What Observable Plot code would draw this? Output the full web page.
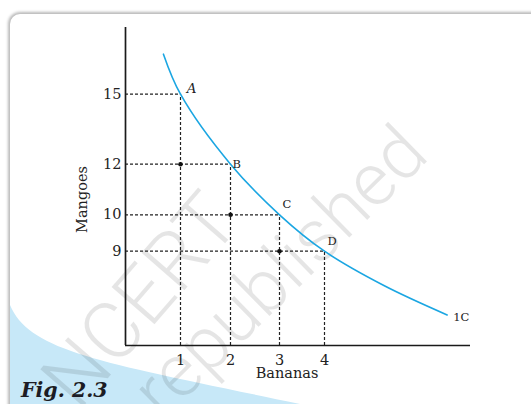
<!DOCTYPE html>
<html>
<head>
<meta charset="utf-8">
<script src="https://cdn.jsdelivr.net/npm/d3@7"></script>
<script src="https://cdn.jsdelivr.net/npm/@observablehq/plot@0.6"></script>
<style>
  html, body { margin: 0; padding: 0; background: #fff; }
  #wrap { position: relative; width: 531px; height: 404px; overflow: hidden; background: #fff; }
  #card { position: absolute; left: 10px; top: 14px; width: 640px; height: 520px; border-radius: 10px;
          background: #fff; box-shadow: 0 0 3px 2px rgba(0,0,0,0.28); overflow: hidden; }
  #deco, #mark, #plot { position: absolute; left: 0; top: 0; }
  #fig { position: absolute; left: 21px; top: 378px; font-family: "DejaVu Serif", serif; font-weight: bold;
         font-style: italic; font-size: 20.5px; color: #1c1c24; white-space: nowrap; }
</style>
</head>
<body>
<div id="wrap">
  <div id="card"></div>
  <svg id="deco" width="531" height="404">
    <path d="M10,305 C30,352 100,362 300,404 L10,404 Z" fill="#c7e8f8"></path>
  </svg>
  <svg id="mark" width="531" height="404" style="font-family: Roboto, 'DejaVu Sans', sans-serif; font-weight:300;">
    <text x="140" y="300" transform="rotate(-49 140 300)" text-anchor="middle" dominant-baseline="central"
          font-size="80" fill="#000" fill-opacity="0.1">NCERT</text>
    <text x="279" y="271" transform="rotate(-44.5 279 271)" text-anchor="middle" dominant-baseline="central"
          font-size="74" fill="#000" fill-opacity="0.1">republished</text>
  </svg>
  <div id="plot"></div>
  <div id="fig">Fig. 2.3</div>
</div>
<script>
// Schematic (unevenly spaced) axes, as drawn in the reference figure
const xDomain = [0, 1, 2, 3, 4, 7];
const yDomain = [6.5, 9, 10, 12, 15, 18];

// Consumption bundles on the indifference curve
const bananas = [1, 2, 3, 4];
const mangoes = [15, 12, 10, 9];
const bundleLabels = ["A", "B", "C", "D"];

// Intersection dots of the dashed guides
const dotBananas = [1, 2, 3];
const dotMangoes = [12, 10, 9];

// Indifference curve IC
const curveBananas = [0.69, 1, 2, 3, 4, 5.22, 6.52];
const curveMangoes = [16.8, 15, 12, 10, 9, 8.09, 7.31];

const xTicks = [1, 2, 3, 4];
const yTicks = [9, 10, 12, 15];

const bundles = bananas.map((b, i) => ({b, m: mangoes[i], label: bundleLabels[i]}));
const dots = dotBananas.map((b, i) => ({b, m: dotMangoes[i]}));
const curve = curveBananas.map((b, i) => ({b, m: curveMangoes[i]}));

const xMin = xDomain[0], xMax = xDomain[xDomain.length - 1];
const yMin = yDomain[0], yMax = yDomain[yDomain.length - 1];

// the figure's axes are hand-spaced: warp each axis piecewise before Plot's linear scale
const xWarp = d3.scaleLinear(xDomain, [0, 55, 105, 154, 199, 345]);
const yWarp = d3.scaleLinear(yDomain, [0, 94.3, 130.7, 181.3, 251.3, 318]);

const dash = {stroke: "#222", strokeWidth: 1.2, strokeDasharray: "3,2"};
const serif = "DejaVu Serif, Liberation Serif, serif";
const lab = {x: "b", y: "m", text: "label", fontSize: 11.5, fill: "#222"};

const chart = Plot.plot({
  width: 531,
  height: 404,
  margin: 0,
  x: {transform: xWarp, domain: [0, 345], range: [125, 470], axis: null},
  y: {transform: yWarp, domain: [0, 318], range: [345, 27], axis: null},
  style: {background: "transparent", fontFamily: serif, color: "#222"},
  marks: [
    Plot.ruleY(bundles, {y: "m", x1: xMin, x2: "b", ...dash}),
    Plot.ruleX(bundles, {x: "b", y1: yMin, y2: "m", ...dash}),
    Plot.dot(dots, {x: "b", y: "m", r: 2.3, fill: "#111"}),
    Plot.line(curve, {x: "b", y: "m", stroke: "#1ba6e2", strokeWidth: 1.6, curve: "catmull-rom"}),
    Plot.ruleX([xMin], {y1: yMin, y2: yMax, stroke: "#1a1a1a", strokeWidth: 1.7}),
    Plot.ruleY([yMin], {x1: xMin, x2: xMax, stroke: "#1a1a1a", strokeWidth: 1.7}),
    // tick labels
    Plot.text(yTicks, {x: xMin, y: d => d, text: d => String(d), textAnchor: "end", dx: -4, fontSize: 14.5, fill: "#222"}),
    Plot.text(xTicks, {x: d => d, y: yMin, text: d => String(d), dy: 15, fontSize: 14.5, fill: "#222"}),
    // axis titles
    Plot.text(["Bananas"], {frameAnchor: "bottom", dx: 21, dy: -27, fontSize: 14.5, fill: "#222"}),
    Plot.text(["Mangoes"], {frameAnchor: "left", textAnchor: "middle", rotate: -90, dx: 82, dy: -3, fontSize: 14.5, fill: "#222"}),
    // bundle labels
    Plot.text(bundles.filter(d => d.label === "A"), {...lab, dx: 11, dy: -6, fontSize: 13.5, fontStyle: "italic"}),
    Plot.text(bundles.filter(d => d.label === "B"), {...lab, textAnchor: "start", dx: 2, dy: 0}),
    Plot.text(bundles.filter(d => d.label === "C" || d.label === "D"), {...lab, textAnchor: "start", dx: 3, dy: -10}),
    Plot.text([curve[curve.length - 1]], {x: "b", y: "m", text: () => "1C", textAnchor: "start", dx: 6, dy: 2, fontSize: 11.5, fill: "#222"})
  ]
});
document.getElementById("plot").appendChild(chart);
</script>
</body>
</html>
